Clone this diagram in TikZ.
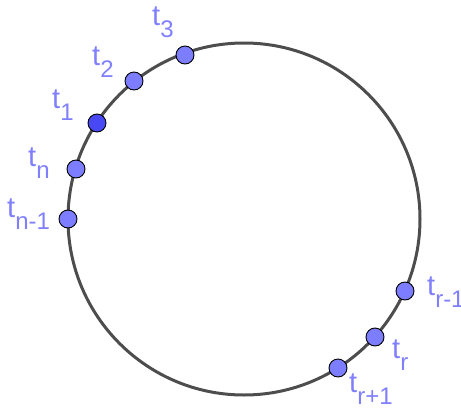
\documentclass[tikz,border=0pt]{standalone}
\usepackage{fontspec}
\setmainfont{Liberation Sans}
\definecolor{ptblue}{RGB}{125,125,255}
\definecolor{ptdark}{RGB}{72,72,245}
\definecolor{lblblue}{RGB}{128,128,255}
\definecolor{ringgray}{RGB}{77,77,77}
\newcommand{\tsub}[1]{t\raisebox{-12pt}{\fontsize{24}{24}\selectfont #1}}

\begin{document}
\begin{tikzpicture}[x=1pt, y=-1pt,
  dot/.style={circle, draw=black, line width=0.9pt, fill=ptblue, inner sep=0pt, minimum size=18pt},
  lbl/.style={text=lblblue, font=\fontsize{29}{29}\selectfont, anchor=base west, inner sep=0pt}]
  \useasboundingbox (0,0) rectangle (461,410);
  \coordinate (c) at (244,219);
  \draw[ringgray, line width=3pt] (c) circle[radius=176];

  % points on the ring
  \node[dot] (t3) at (185,55) {};
  \node[dot] (t2) at (134,81) {};
  \node[dot, fill=ptdark] (t1) at (97,123) {};
  \node[dot] (tn) at (76,169) {};
  \node[dot] (tnm) at (68,219) {};
  \node[dot] (trm) at (405,291) {};
  \node[dot] (tr) at (375,337) {};
  \node[dot] (trp) at (338,368) {};

  % labels
  \node[lbl] (l3) at (152,25) {\tsub{3}};
  \node[lbl] (l2) at (92,65) {\tsub{2}};
  \node[lbl] (l1) at (52,108) {\tsub{1}};
  \node[lbl] (ln) at (28,166) {\tsub{n}};
  \node[lbl] (lnm) at (7,217) {\tsub{n-1}};
  \node[lbl] (lrm) at (427,295) {\tsub{r-1}};
  \node[lbl] (lr) at (392,358) {\tsub{r}};
  \node[lbl] (lrp) at (349,392) {\tsub{r+1}};
\end{tikzpicture}
\end{document}
